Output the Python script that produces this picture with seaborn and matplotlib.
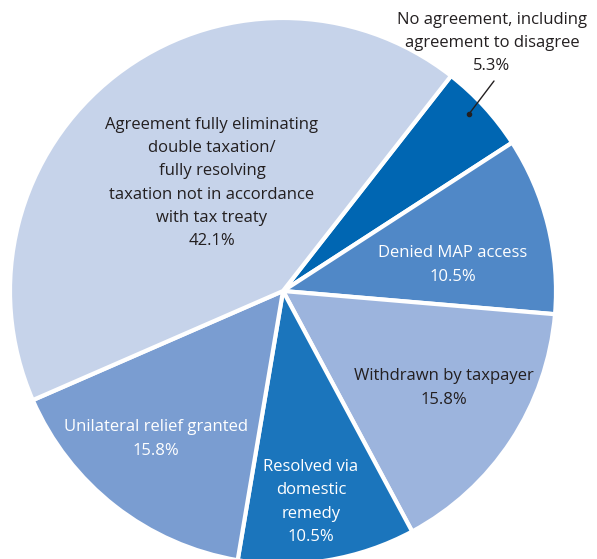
import matplotlib
matplotlib.use("Agg")
import matplotlib.pyplot as plt
import seaborn as sns

sns.set_theme(style="white")
plt.rcParams["font.family"] = ["Open Sans", "DejaVu Sans"]

# MAP case outcomes, clockwise from the top
categories = [
    "No agreement, including\nagreement to disagree",
    "Denied MAP access",
    "Withdrawn by taxpayer",
    "Resolved via\ndomestic\nremedy",
    "Unilateral relief granted",
    "Agreement fully eliminating\ndouble taxation/\nfully resolving\ntaxation not in accordance\nwith tax treaty",
]
shares = [5.3, 10.5, 15.8, 10.5, 15.8, 42.1]
colors = sns.color_palette(["#0066b2", "#5088c7", "#9cb4dd", "#1b75bc", "#7a9dd1", "#c6d3ea"])
text_colors = ["#231f20", "white", "#231f20", "white", "white", "#231f20"]

W, H = 597, 559
fig = plt.figure(figsize=(W / 100, H / 100), dpi=100)
cx, cy, r = 283, 291, 273
ax = fig.add_axes([(cx - r) / W, (H - cy - r) / H, 2 * r / W, 2 * r / H])

wedges, _ = ax.pie(
    shares,
    colors=colors,
    startangle=52,
    counterclock=False,
    radius=1,
    wedgeprops=dict(edgecolor="white", linewidth=3),
)
ax.set_xlim(-1, 1)
ax.set_ylim(-1, 1)
ax.set_aspect("equal")
ax.axis("off")


def to_data(px, py):
    return (px - cx) / r, (cy - py) / r


# label anchor points (pixel space of the figure)
label_pos = [(492, 43), (453, 265), (444, 388), (311, 502), (156, 439), (212, 183)]

for name, val, (px, py), tc in zip(categories, shares, label_pos, text_colors):
    x, y = to_data(px, py)
    ax.text(x, y, f"{name}\n{val}%", ha="center", va="center", color=tc,
            fontsize=12, linespacing=1.6, clip_on=False)

# leader line for the small slice
x0, y0 = to_data(469, 114)
x1, y1 = to_data(494, 81)
ax.plot([x0, x1], [y0, y1], color="#231f20", lw=1, clip_on=False)
ax.plot([x0], [y0], marker="o", ms=3, color="#231f20", clip_on=False)

fig.savefig("out.png", dpi=100)
